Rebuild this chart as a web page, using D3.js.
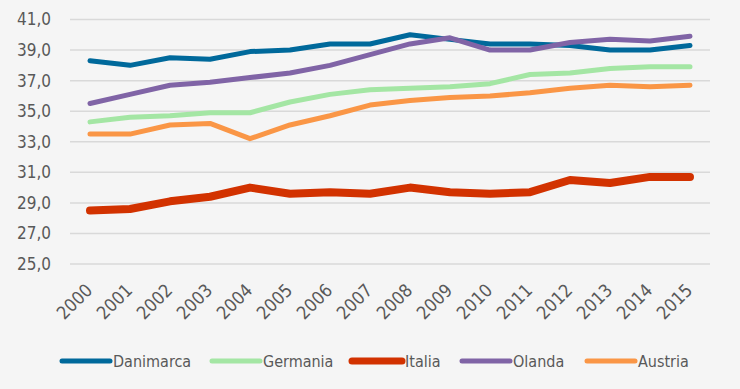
<!DOCTYPE html>
<html>
<head>
<meta charset="utf-8">
<script src="https://cdn.jsdelivr.net/npm/d3@7"></script>
<style>
  body { margin: 0; background: #f5f5f5; }
  svg { display: block; }
  text { font-family: "Liberation Sans Narrow", "DejaVu Sans Condensed", sans-serif; fill: #595959; }
</style>
</head>
<body>
<svg id="chart" width="740" height="389"></svg>
<script>
// years on the x axis
var years = ["2000","2001","2002","2003","2004","2005","2006","2007",
             "2008","2009","2010","2011","2012","2013","2014","2015"];
var yTicks = [25, 27, 29, 31, 33, 35, 37, 39, 41];

// values
var danimarca = [38.3, 38.0, 38.5, 38.4, 38.9, 39.0, 39.4, 39.4, 40.0, 39.7, 39.4, 39.4, 39.3, 39.0, 39.0, 39.3];
var germania  = [34.3, 34.6, 34.7, 34.9, 34.9, 35.6, 36.1, 36.4, 36.5, 36.6, 36.8, 37.4, 37.5, 37.8, 37.9, 37.9];
var italia    = [28.5, 28.6, 29.1, 29.4, 30.0, 29.6, 29.7, 29.6, 30.0, 29.7, 29.6, 29.7, 30.5, 30.3, 30.7, 30.7];
var olanda    = [35.5, 36.1, 36.7, 36.9, 37.2, 37.5, 38.0, 38.7, 39.4, 39.8, 39.0, 39.0, 39.5, 39.7, 39.6, 39.9];
var austria   = [33.5, 33.5, 34.1, 34.2, 33.2, 34.1, 34.7, 35.4, 35.7, 35.9, 36.0, 36.2, 36.5, 36.7, 36.6, 36.7];

var series = [
  { name: "Danimarca", values: danimarca, color: "#00699b", w: 5 },
  { name: "Germania",  values: germania,  color: "#a4e6a4", w: 5 },
  { name: "Italia",    values: italia,    color: "#d23200", w: 8 },
  { name: "Olanda",    values: olanda,    color: "#8064a6", w: 5 },
  { name: "Austria",   values: austria,   color: "#fa9646", w: 5 }
];

var svg = d3.select("#chart");
// plot edges (don't call it "top", that's window.top)
var plotL = 70, plotR = 710, plotT = 19.5, plotB = 264;

var x = d3.scalePoint().domain(years).range([plotL, plotR]).padding(0.5);
var y = d3.scaleLinear().domain([25, 41]).range([plotB, plotT]);

// gridlines
svg.append("g").selectAll("line")
  .data(yTicks).join("line")
  .attr("x1", plotL).attr("x2", plotR)
  .attr("y1", function(d) { return y(d); })
  .attr("y2", function(d) { return y(d); })
  .attr("stroke", "#d9d9d9").attr("stroke-width", 1.5);

// y labels, comma decimals
var fmt = function(d) { return d.toFixed(1).replace(".", ","); };
svg.append("g").selectAll("text")
  .data(yTicks).join("text")
  .attr("x", 51)
  .attr("y", function(d) { return y(d); })
  .attr("dy", "0.35em")
  .attr("text-anchor", "end")
  .attr("font-size", 17)
  .text(fmt);

// x labels rotated
svg.append("g").selectAll("text")
  .data(years).join("text")
  .attr("transform", function(d) { return "translate(" + (x(d) - 1) + ",287) rotate(-45)"; })
  .attr("text-anchor", "end")
  .attr("dy", "0.35em")
  .attr("font-size", 18)
  .text(function(d) { return d; });

var line = d3.line()
  .x(function(d, i) { return x(years[i]); })
  .y(function(d) { return y(d); });

svg.append("g").selectAll("path")
  .data(series).join("path")
  .attr("d", function(s) { return line(s.values); })
  .attr("fill", "none")
  .attr("stroke", function(s) { return s.color; })
  .attr("stroke-width", function(s) { return s.w; })
  .attr("stroke-linejoin", "round")
  .attr("stroke-linecap", "round");

// legend
var legendX = [60, 210, 350, 460, 585];
var lg = svg.append("g").selectAll("g")
  .data(series).join("g")
  .attr("transform", function(s, i) { return "translate(" + legendX[i] + ",361)"; });
lg.append("line")
  .attr("x1", 2).attr("x2", function(s) { return s.name === "Italia" ? 52 : 50; })
  .attr("stroke", function(s) { return s.color; })
  .attr("stroke-width", function(s) { return s.name === "Italia" ? 7 : 5; })
  .attr("stroke-linecap", "round");
lg.append("text")
  .attr("x", function(s) { return s.name === "Italia" ? 55 : 53; })
  .attr("dy", "0.35em")
  .attr("font-size", 16)
  .text(function(s) { return s.name; });
</script>
</body>
</html>
